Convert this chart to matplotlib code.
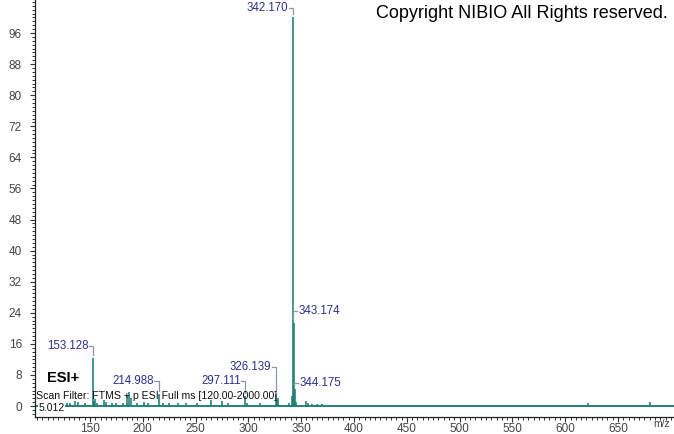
import matplotlib
matplotlib.use("Agg")
import matplotlib.pyplot as plt
from matplotlib.ticker import MultipleLocator

plt.rcParams['font.family'] = ['Liberation Sans', 'DejaVu Sans']

# spectrum sticks (m/z, relative abundance)
mz = [117.0, 122.1, 128.0, 131.0, 136.1, 139.0, 145.0, 153.128, 154.13, 155.0,
      157.0, 163.0, 165.1, 171.0, 175.0, 181.0, 185.1, 187.0, 189.0, 195.0,
      201.0, 205.0, 214.988, 219.0, 225.0, 233.0, 241.0, 251.0, 265.0, 275.0,
      281.0, 297.111, 299.0, 311.0, 326.139, 327.14, 328.0, 338.0, 341.17, 342.170,
      343.174, 344.175, 345.18, 355.0, 356.0, 360.0, 365.0, 370.0, 622.0, 680.0]
intensity = [0.6, 0.8, 0.7, 0.9, 1.2, 1.0, 0.8, 12.4, 1.4, 1.8,
             0.9, 1.5, 1.0, 0.9, 0.8, 0.7, 2.8, 3.5, 2.2, 0.8,
             1.0, 0.7, 3.2, 0.8, 0.7, 0.8, 0.7, 0.9, 1.6, 1.3,
             0.7, 2.6, 0.9, 0.7, 3.0, 1.5, 2.0, 0.8, 2.5, 100.0,
             21.5, 4.5, 1.0, 1.2, 0.9, 0.6, 0.5, 0.5, 0.8, 1.0]

# labelled peaks: m/z, peak top, label height, side
label_mz = [153.128, 214.988, 297.111, 326.139, 342.170, 343.174, 344.175]
label_top = [12.4, 3.2, 2.6, 3.0, 100.0, 21.5, 4.5]
label_y = [15.4, 6.5, 6.5, 10.1, 102.5, 24.5, 5.9]
label_side = ['left', 'left', 'left', 'left', 'left', 'right', 'right']

teal = '#137a70'
navy = '#2b2f8f'
conn = '#8a96b4'

fig = plt.figure(figsize=(6.74, 4.34), dpi=100)
ax = fig.add_axes([0.052, 0.039, 0.948, 0.961])

ax.axhline(0, color=teal, lw=1.3, zorder=2)
ax.vlines(mz, 0, intensity, color=teal, lw=1.1, zorder=3)

for m, top, ly, side in zip(label_mz, label_top, label_y, label_side):
    if side == 'left':
        ax.plot([m - 4, m, m], [ly, ly, top + 0.8], color=conn, lw=0.9, zorder=4)
        ax.text(m - 4.5, ly, f'{m:.3f}', color=navy, fontsize=8.3,
                ha='right', va='center', zorder=5)
    else:
        ax.plot([m - 1, m - 1, m + 2.5], [top + 1.0, ly, ly], color=conn, lw=0.9, zorder=4)
        ax.text(m + 4.5, ly, f'{m:.3f}', color=navy, fontsize=8.3,
                ha='left', va='center', zorder=5)

ax.set_xlim(98, 703)
ax.set_ylim(-2.83, 104.5)
ax.set_yticks(range(0, 97, 8))
ax.set_xticks(range(150, 651, 50))
ax.yaxis.set_minor_locator(MultipleLocator(1))
ax.xaxis.set_minor_locator(MultipleLocator(5))
ax.tick_params(axis='both', which='major', length=3.5, width=0.8,
               labelsize=8.5, labelcolor='#444444', color='#333333')
ax.tick_params(axis='both', which='minor', length=2.2, width=0.7, color='#333333')
ax.tick_params(axis='x', pad=0.5)
ax.tick_params(axis='y', pad=6)

for s in ['top', 'right']:
    ax.spines[s].set_visible(False)
for s in ['left', 'bottom']:
    ax.spines[s].set_color('#222222')
    ax.spines[s].set_linewidth(0.9)

fig.text(0.991, 0.968, 'Copyright NIBIO All Rights reserved.', fontsize=13,
         ha='right', va='center', color='black')
fig.text(0.070, 0.129, 'ESI+', fontsize=10.5, fontweight='bold', ha='left', va='center')
fig.text(0.053, 0.088, 'Scan Filter: FTMS + p ESI Full ms [120.00-2000.00]',
         fontsize=7.6, ha='left', va='center', color='#111111')
fig.text(0.057, 0.060, '5.012', fontsize=7.6, ha='left', va='center', color='#111111',
         bbox=dict(facecolor='white', edgecolor='none', pad=0.5))
fig.text(0.982, 0.023, 'm/z', fontsize=7.5, ha='center', va='center', color='#444444')

fig.savefig('out.png', dpi=100)
